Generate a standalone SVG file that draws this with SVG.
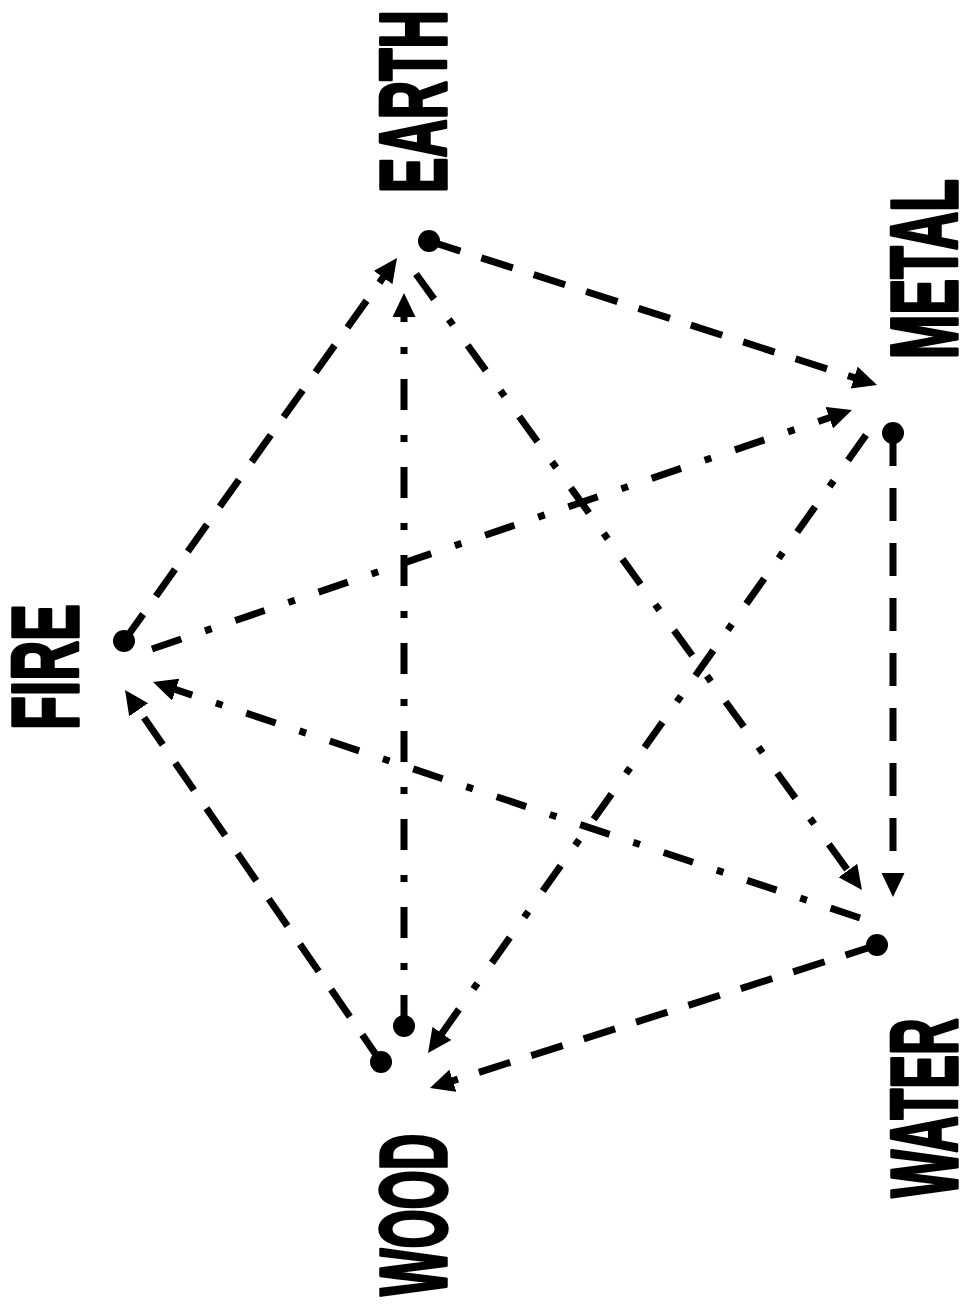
<svg xmlns="http://www.w3.org/2000/svg" width="963" height="1315" viewBox="0 0 963 1315">
<style>
.dash{fill:none;stroke:#000;stroke-width:7;stroke-dasharray:33 22;marker-end:url(#ah)}
.dd{fill:none;stroke:#000;stroke-width:7;stroke-dasharray:31 25 7 25;marker-end:url(#ah)}
.lbl{font-family:"Liberation Sans",Arial,sans-serif;font-weight:bold;font-size:94px;fill:#000;stroke:#000;stroke-width:3.5;stroke-linejoin:round;text-anchor:middle}
.dot{fill:#000}
</style>
<defs>
<marker id="ah" markerUnits="userSpaceOnUse" markerWidth="26" markerHeight="24" refX="14" refY="11.5" orient="auto" viewBox="0 0 26 24">
<path d="M0,0 L24,11.5 L0,23 z" fill="#000"/>
</marker>
</defs>
<rect width="963" height="1315" fill="#fff"/>
<g id="connectors">
<path class="dash" d="M429,241 L867.5,381.9"/>
<path class="dash" d="M893,433 L893,887"/>
<path class="dash" d="M877,945 L439.5,1085"/>
<path class="dash" d="M381,1062 L130.7,698.2"/>
<path class="dash" d="M124,641 L391.2,266.1"/>
<path class="dd" d="M404,1026 L404,303"/>
<path class="dd" d="M416,274 L856.1,881.9"/>
<path class="dd" d="M866,435 L433.8,1044.8"/>
<path class="dd" d="M860,918 L162.5,685.2"/>
<path class="dd" d="M152,649 L842.5,413.2"/>
</g>
<g id="earth"><circle class="dot" cx="429" cy="241" r="11"/><text class="lbl" transform="translate(446,101.5) rotate(-90) scale(0.565,1)">EARTH</text></g>
<g id="metal"><circle class="dot" cx="893" cy="433" r="11"/><text class="lbl" transform="translate(957,269) rotate(-90) scale(0.568,1)">METAL</text></g>
<g id="water"><circle class="dot" cx="877" cy="945" r="11"/><text class="lbl" transform="translate(957,1108) rotate(-90) scale(0.54,1)">WATER</text></g>
<g id="wood"><circle class="dot" cx="404" cy="1026" r="11"/><circle class="dot" cx="381" cy="1062" r="11"/><text class="lbl" transform="translate(446,1215) rotate(-90) scale(0.535,1)">WOOD</text></g>
<g id="fire"><circle class="dot" cx="124" cy="641" r="11"/><text class="lbl" transform="translate(78,667) rotate(-90) scale(0.588,1)">FIRE</text></g>
</svg>
